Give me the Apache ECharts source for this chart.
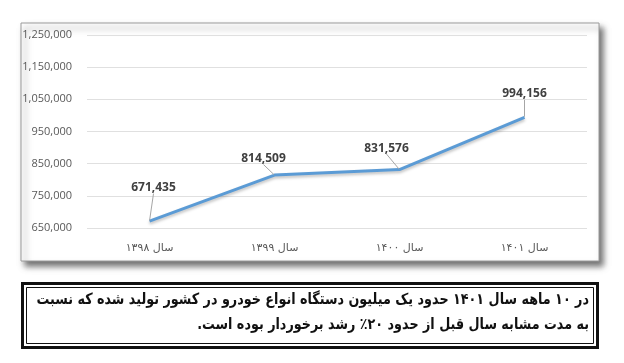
<!DOCTYPE html>
<html>
<head>
<meta charset="utf-8">
<script src="https://cdn.jsdelivr.net/npm/echarts@6/dist/echarts.min.js"></script>
<style>
html,body{margin:0;padding:0;background:#fff;}
#chart{width:624px;height:363px;}
</style>
</head>
<body>
<div id="chart"></div>
<script>
var categories = ['سال ۱۳۹۸', 'سال ۱۳۹۹', 'سال ۱۴۰۰', 'سال ۱۴۰۱'];
var production = [671435, 814509, 831576, 994156];
var yTicks = { min: 650000, max: 1250000, interval: 100000 };
var captionLines = [
  'در ۱۰ ماهه سال ۱۴۰۱ حدود یک میلیون دستگاه انواع خودرو در کشور تولید شده که نسبت',
  'به مدت مشابه سال قبل از حدود ۲۰٪ رشد برخوردار بوده است.'
];
var labelOffsets = [[4, -22], [-11, -5], [-13, -10], [0, -12]];

var RLE = '\u202B', PDF = '\u202C';
var captionFontFamily = '"DejaVu Sans"';
var cv = document.createElement('canvas').getContext('2d');
cv.font = 'bold 14px ' + captionFontFamily;
var w0 = cv.measureText(RLE + captionLines[0] + PDF).width;
var capSize = Math.min(14, 14 * 553 / w0);
var capFont = 'bold ' + capSize.toFixed(2) + 'px ' + captionFontFamily;

var chart = echarts.init(document.getElementById('chart'), null, {renderer: 'canvas'});
var option = {
  animation: false,
  backgroundColor: '#fff',
  graphic: [
    {type: 'rect', z: -10, shape: {x: 21, y: 23, width: 578, height: 238},
     style: {fill: '#fff', stroke: '#9a9a9a', lineWidth: 1, shadowBlur: 6, shadowOffsetX: 4, shadowOffsetY: 5, shadowColor: 'rgba(0,0,0,0.55)'}},
    {type: 'rect', shape: {x: 22.5, y: 283.5, width: 575, height: 64},
     style: {fill: '#fff', stroke: '#111', lineWidth: 3}},
    {type: 'rect', shape: {x: 26.5, y: 287.5, width: 567, height: 56},
     style: {fill: 'none', stroke: '#111', lineWidth: 1}},
    {type: 'text', x: 589, y: 300.5, scaleY: 1.2, style: {x: 0, y: 0, text: RLE + captionLines[0] + PDF, align: 'right', verticalAlign: 'middle',
      font: capFont, fill: '#111'}},
    {type: 'text', x: 589, y: 325, scaleY: 1.2, style: {x: 0, y: 0, text: RLE + captionLines[1] + PDF, align: 'right', verticalAlign: 'middle',
      font: capFont, fill: '#111'}}
  ],
  grid: {left: 87, right: 37, top: 35, bottom: 135, containLabel: false},
  xAxis: {
    type: 'category', data: categories, boundaryGap: true,
    axisLine: {show: false}, axisTick: {show: false},
    axisLabel: {color: '#595959', fontSize: 11, fontFamily: 'DejaVu Sans', margin: 15,
      formatter: function (v) { return RLE + v + PDF; }}
  },
  yAxis: {
    type: 'value', min: yTicks.min, max: yTicks.max, interval: yTicks.interval,
    axisLine: {show: false}, axisTick: {show: false},
    splitLine: {lineStyle: {color: '#e0e0e0', width: 1}},
    axisLabel: {color: '#595959', fontSize: 11, fontFamily: 'Open Sans', margin: 15,
      formatter: function (v) { return v.toLocaleString('en-US'); }}
  },
  series: [{
    type: 'line', data: production, symbol: 'circle', symbolSize: 1, showSymbol: true,
    itemStyle: {color: 'rgba(91,155,213,0)'},
    lineStyle: {color: '#5b9bd5', width: 3, shadowBlur: 3, shadowOffsetY: 2, shadowColor: 'rgba(0,0,0,0.25)'},
    label: {show: true, position: 'top', distance: 5, color: '#404040', fontWeight: 'bold', fontSize: 12, fontFamily: 'Open Sans',
      formatter: function (p) { return p.value.toLocaleString('en-US'); }},
    labelLine: {show: true, lineStyle: {color: '#a6a6a6', width: 1}},
    labelLayout: function (params) {
      var o = labelOffsets[params.dataIndex];
      return {dx: o[0], dy: o[1]};
    }
  }]
};
chart.setOption(option);
</script>
</body>
</html>
